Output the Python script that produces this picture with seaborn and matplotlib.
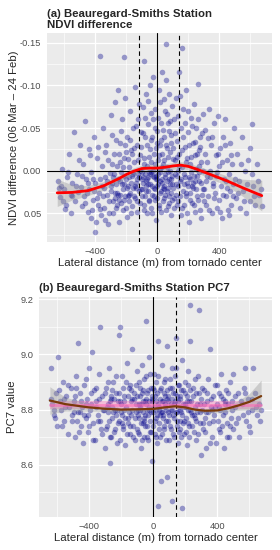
import matplotlib
matplotlib.use("Agg")
import numpy as np
import pandas as pd
import matplotlib.pyplot as plt
import seaborn as sns

# ---- panel (a): NDVI difference points ----
a_x = [-640, -628, -615, -600, -590, -582, -570, -560, -548, -540, -530, -520, -512, -505, -596, -560, -620,
       -495, -488, -480, -472, -465, -458, -450, -444, -438, -430, -425, -418, -410, -404, -400, -395, -390, -384,
       -378, -370, -365, -360, -356, -350, -345, -340, -335, -330, -325, -320, -316, -310, -305, -302, -452, -415,
       -372, -342,
       -296, -292, -288, -284, -280, -276, -272, -268, -264, -260, -256, -252, -248, -244, -240, -236, -232, -228,
       -224, -220, -216, -213, -210, -206, -202, -198, -194, -190, -186, -182, -178, -174, -170, -166, -162, -158,
       -154, -150, -146, -142, -138, -134, -130, -126, -122, -118, -114, -110, -106, -102, -290, -262, -238, -212,
       -188, -160, -136, -112, -250, -200,
       -98, -95, -92, -89, -86, -83, -80, -77, -74, -71, -68, -65, -62, -59, -56, -53, -50, -47, -44, -41, -38, -35,
       -32, -29, -26, -23, -20, -17, -14, -11, -8, -5, -2, 2, 5, 8, 11, 14, 17, 20, 23, 26, 29, 32, 35, 38, 41, 44,
       47, 50, 54, 57, 60, 63, 66, 69, 72, 75, 78, 81, 84, 87, 90, 93, 96, 99, -60, -30, 0, 30, 60, -75, 15, 45,
       -45, 75,
       102, 106, 110, 114, 118, 122, 126, 130, 134, 138, 142, 146, 150, 154, 157, 160, 164, 168, 172, 176, 180, 184,
       188, 192, 196, 200, 204, 208, 212, 216, 220, 224, 228, 232, 236, 240, 244, 248, 252, 256, 260, 264, 268, 272,
       276, 280, 284, 288, 292, 296, 120, 170, 210, 250, 135, 190, 230, 270,
       304, 310, 316, 322, 328, 334, 340, 346, 352, 358, 364, 370, 376, 382, 388, 394, 400, 406, 412, 418, 424, 430,
       436, 442, 448, 454, 460, 466, 472, 478, 484, 490, 496, 320, 360, 400, 440,
       505, 515, 525, 535, 545, 555, 565, 575, 585, 595, 608, 620, 632, 645, 658, 674, 612,
       -633, -606, -577, -553, -527, -498, -484, -468, -447, -433, -421, -407, -392, -381, -367, -352, -338, -327,
       -314, -300, -294, -286, -279, -270, -266, -258, -254, -246, -242, -234, -230, -222, -218, -214, -208, -204,
       -196, -192, -184, -180, -176, -172, -168, -164, -156, -152, -148, -144, -140, -132, -128, -124, -120, -116,
       -108, -104, -100, -96, -93, -90, -87, -84, -81, -78, -72, -69, -66, -63, -57, -54, -51, -48, -42, -39, -36,
       -33, -27, -24, -21, -18, -15, -12, -9, -6, -3, 1, 4, 7, 10, 13, 16, 19, 22, 25, 28, 31, 34, 37, 40, 43, 46,
       49, 52, 55, 58, 61, 64, 67, 70, 73, 76, 79, 82, 85, 88, 91, 94, 97, 104, 108, 112, 116, 124, 128, 132, 136,
       140, 144, 148, 152, 156, 162, 166, 174, 178, 182, 186, 194, 198, 202, 206, 214, 218, 222, 226, 234, 238, 242,
       246, 254, 258, 262, 266, 274, 278, 282, 286, 294, 298, 307, 313, 325, 331, 343, 355, 367, 379, 391, 403, 415,
       427, 439, 451, 463, 475, 487, 499, 520, 540, 560, 580, 600, 625, 650, 668]
a_y = [0.012, 0.031, -0.002, 0.022, 0.040, 0.008, -0.020, 0.028, 0.015, -0.045, 0.036, 0.004, 0.025, -0.012,
       0.045, 0.050, 0.018,
       0.019, 0.041, -0.008, 0.030, -0.058, 0.010, 0.048, -0.025, 0.022, 0.055, 0.002, 0.034, -0.040, 0.072, 0.014,
       0.060, -0.015, 0.040, 0.026, -0.135, 0.052, -0.005, 0.018, -0.050, 0.044, 0.008, 0.058, -0.030, 0.028, 0.063,
       -0.012, 0.036, 0.003, -0.065, 0.026, 0.010, 0.045, 0.020,
       0.024, -0.042, 0.050, 0.008, -0.020, 0.032, -0.080, 0.016, 0.044, -0.006, 0.028, -0.095, 0.060, 0.012,
       -0.032, 0.038, 0.002, -0.060, 0.022, 0.046, -0.015, -0.133, 0.030, -0.085, 0.010, 0.054, -0.040, 0.018,
       -0.004, 0.035, -0.070, 0.026, -0.024, 0.006, 0.042, -0.050, 0.020, -0.010, 0.032, -0.098, 0.014, 0.048,
       -0.030, 0.004, -0.060, 0.024, -0.018, 0.038, -0.045, 0.010, 0.014, 0.026, -0.010, 0.016, 0.030, 0.002,
       0.020, 0.000, 0.034, -0.022,
       0.022, -0.075, 0.008, 0.040, -0.128, -0.015, 0.030, -0.040, 0.012, -0.090, 0.050, -0.005, 0.024, -0.055,
       0.036, 0.002, -0.025, 0.016, -0.068, 0.044, -0.010, 0.028, -0.040, 0.006, -0.110, 0.020, -0.020, 0.034,
       -0.050, 0.010, 0.058, -0.032, 0.018, -0.062, 0.004, 0.040, -0.018, 0.026, -0.080, 0.012, -0.036, 0.048,
       -0.004, -0.116, 0.020, -0.048, 0.032, -0.012, 0.008, -0.070, -0.106, -0.148, 0.024, -0.026, 0.042, -0.056,
       0.002, 0.030, -0.090, 0.016, -0.022, 0.052, -0.042, 0.006, 0.034, -0.014, 0.008, 0.000, 0.010, 0.014,
       -0.004, 0.018, -0.002, 0.022, 0.004, 0.010,
       0.020, -0.060, 0.044, -0.012, 0.028, -0.085, 0.006, -0.035, 0.036, -0.020, -0.116, 0.012, -0.050, 0.052,
       -0.144, -0.004, 0.024, -0.072, 0.040, -0.028, 0.008, -0.095, 0.030, -0.015, 0.018, -0.045, 0.060, -0.008,
       0.026, -0.062, 0.002, 0.038, -0.032, 0.014, -0.078, 0.048, -0.018, 0.022, -0.050, 0.006, -0.102, 0.034,
       -0.024, 0.012, -0.040, 0.056, -0.010, 0.028, -0.066, 0.000, 0.016, 0.004, 0.010, -0.002, 0.000, 0.015,
       0.020, -0.006,
       0.022, -0.048, 0.040, -0.010, 0.030, -0.072, 0.008, -0.030, 0.050, 0.014, -0.056, 0.026, -0.018, 0.044,
       0.002, -0.064, 0.034, -0.026, 0.018, 0.055, -0.040, 0.010, -0.060, 0.030, -0.012, 0.046, 0.004, -0.032,
       0.024, 0.040, -0.008, 0.016, -0.050, 0.006, 0.018, -0.006, 0.012,
       0.032, -0.020, 0.012, 0.044, -0.040, 0.024, 0.000, 0.050, -0.012, 0.036, -0.055, 0.018, 0.040, -0.008,
       0.028, 0.042, 0.004,
       0.020, 0.035, 0.002, 0.030, 0.018, -0.030, 0.006, 0.038, 0.014, -0.018, 0.046, 0.024, 0.032, -0.028, 0.010,
       0.030, -0.022, 0.012, 0.050, 0.018, -0.008, 0.036, 0.004, 0.026, -0.036, 0.040, 0.010, -0.020, 0.028,
       -0.046, 0.016, -0.004, 0.034, 0.006, -0.030, 0.044, 0.020, -0.014, 0.008, 0.028, -0.036, 0.014, 0.050,
       -0.020, 0.004, 0.030, -0.026, 0.018, -0.052, 0.010, 0.036, -0.012, 0.008, -0.078, 0.022, -0.028, 0.002,
       0.030, -0.044, 0.014, -0.008, 0.046, -0.062, 0.004, 0.024, -0.030, 0.010, -0.082, 0.016, -0.016, 0.034,
       -0.100, 0.002, -0.036, 0.018, 0.050, -0.060, 0.008, 0.030, -0.008, -0.072, 0.022, -0.026, 0.006, -0.046,
       0.032, -0.012, 0.016, -0.094, 0.044, -0.030, 0.002, 0.024, -0.056, 0.010, -0.020, 0.036, -0.008, -0.084,
       0.018, -0.040, 0.028, 0.004, -0.030, 0.046, -0.066, 0.012, -0.016, 0.020, -0.046, 0.038, 0.000, -0.058,
       0.026, -0.032, 0.010, -0.076, 0.016, -0.026, 0.032, -0.044, 0.004, -0.016, 0.040, -0.064, 0.018, -0.006,
       0.030, -0.088, 0.010, -0.024, 0.044, -0.040, 0.016, -0.056, 0.026, -0.010, 0.050, -0.070, 0.008, -0.030,
       0.034, -0.016, 0.018, -0.052, 0.006, 0.040, -0.034, 0.012, -0.020, 0.030, -0.060, 0.002, 0.046, -0.028,
       0.014, -0.044, 0.022, 0.036, -0.020, 0.012, -0.038, 0.046, 0.000, -0.040, 0.032, 0.006, -0.020, 0.048,
       -0.010, 0.028, -0.030, 0.020, 0.052, -0.018, 0.030, 0.010, 0.026, -0.008, 0.036, 0.016, -0.026, 0.030,
       0.012, 0.022]

# loess fit (a)
a_fit_x = [-646, -550, -450, -350, -250, -200, -150, -100, -50, 0, 50, 100, 150, 200, 250, 350, 450, 550, 674]
a_fit_y = [0.026, 0.0255, 0.0235, 0.018, 0.0095, 0.0045, 0.0005, -0.0025, -0.003, -0.003, -0.004, -0.0055,
           -0.0065, -0.005, -0.002, 0.005, 0.012, 0.020, 0.0293]
a_fit_se = [0.016, 0.009, 0.006, 0.005, 0.004, 0.004, 0.004, 0.004, 0.004, 0.004, 0.004, 0.004, 0.004, 0.004,
            0.004, 0.005, 0.006, 0.010, 0.018]
a_vlines = [-116, 142]

# ---- panel (b): PC7 points ----
b_x = [-641, -632, -620, -610, -600, -594, -585, -575, -566, -555, -545, -535, -525, -515, -505, -560, -620,
       -495, -488, -480, -472, -469, -460, -452, -445, -438, -430, -422, -415, -408, -400, -394, -385, -378, -370,
       -362, -355, -348, -341, -333, -326, -318, -310, -304, -490, -455, -420, -390, -360, -330, -475, -405,
       -296, -290, -284, -278, -272, -270, -264, -258, -252, -246, -240, -234, -228, -222, -216, -213, -208, -202,
       -196, -190, -184, -178, -172, -166, -160, -154, -148, -142, -136, -130, -124, -118, -112, -106, -102, -280,
       -255, -230, -205, -180, -155, -130, -110, -265, -195, -145,
       -98, -94, -90, -86, -82, -78, -74, -70, -66, -62, -58, -54, -50, -48, -44, -40, -36, -32, -28, -24, -20, -16,
       -12, -8, -6, -2, 4, 8, 12, 16, 20, 24, 28, 31, 31, 36, 40, 44, 48, 52, 56, 60, 64, 68, 72, 76, 80, 84, 88, 88,
       92, 96, -85, -65, -45, -25, -5, 15, 35, 55, 75, 95, -55, 0, 45,
       102, 106, 110, 115, 118, 122, 126, 130, 134, 138, 142, 146, 150, 154, 158, 162, 166, 170, 174, 177, 180, 184,
       188, 192, 196, 200, 204, 208, 212, 216, 220, 224, 229, 229, 234, 240, 246, 252, 258, 264, 270, 276, 282, 285,
       290, 296, 120, 150, 190, 230, 260, 290, 170, 210, 300,
       304, 310, 316, 322, 328, 334, 340, 346, 354, 360, 366, 372, 378, 384, 390, 396, 402, 408, 414, 420, 426, 432,
       438, 444, 450, 456, 462, 468, 474, 480, 486, 492, 498, 500, 330, 370, 410, 450,
       508, 518, 528, 538, 548, 558, 568, 573, 580, 592, 604, 616, 626, 636, 648, 660, 674, 590,
       -638, -612, -588, -570, -550, -530, -510, -498, -484, -466, -449, -434, -418, -402, -388, -374, -358, -344,
       -336, -322, -314, -300, -294, -288, -282, -276, -268, -262, -256, -250, -244, -238, -232, -226, -220, -214,
       -210, -204, -198, -192, -186, -182, -176, -170, -164, -158, -152, -146, -140, -134, -128, -122, -116, -108,
       -104, -100, -96, -92, -88, -84, -80, -76, -72, -68, -64, -60, -56, -52, -46, -42, -38, -34, -30, -26, -22,
       -18, -14, -10, -4, 2, 6, 10, 14, 18, 22, 26, 30, 34, 38, 42, 46, 50, 54, 58, 62, 66, 70, 74, 78, 82, 86, 90,
       94, 98, 104, 108, 112, 116, 120, 124, 128, 132, 136, 140, 144, 148, 152, 156, 160, 164, 168, 172, 176, 182,
       186, 194, 198, 202, 206, 214, 218, 222, 226, 232, 238, 244, 250, 256, 262, 268, 274, 280, 288, 294, 302, 308,
       318, 326, 336, 344, 352, 362, 374, 386, 398, 410, 422, 434, 446, 458, 470, 482, 494, 512, 532, 552, 576, 598,
       620, 642, 664]
b_y = [8.95, 8.82, 8.78, 8.86, 8.74, 8.99, 8.83, 8.80, 8.90, 8.76, 8.85, 8.71, 8.81, 8.88, 8.78, 8.84, 8.80,
       8.83, 8.70, 8.92, 8.79, 9.04, 8.86, 8.74, 8.81, 8.68, 8.89, 8.77, 8.84, 8.72, 8.95, 8.80, 9.01, 8.75, 8.87,
       8.69, 8.83, 8.78, 8.93, 9.10, 8.73, 8.85, 8.80, 8.66, 8.85, 8.79, 8.82, 8.86, 8.81, 8.76, 8.76, 8.78,
       8.88, 8.74, 8.82, 8.95, 8.70, 8.605, 8.84, 8.77, 8.90, 8.72, 8.80, 8.86, 8.68, 8.83, 8.76, 9.07, 9.10, 8.79,
       8.92, 8.73, 8.85, 8.67, 8.81, 8.97, 8.75, 8.88, 8.71, 8.83, 8.78, 9.02, 8.74, 8.86, 8.69, 8.82, 8.94, 8.79,
       8.81, 8.78, 8.83, 8.80, 8.77, 8.84, 8.79, 8.85, 8.75, 8.89,
       8.80, 8.72, 8.90, 8.77, 8.85, 8.66, 8.82, 8.96, 8.75, 8.87, 8.70, 8.83, 8.78, 9.12, 8.92, 8.74, 8.86, 8.69,
       8.81, 8.99, 8.76, 8.88, 8.72, 8.84, 8.615, 8.79, 8.93, 8.71, 8.85, 8.77, 8.90, 8.68, 8.82, 9.05, 8.45, 8.75,
       8.87, 8.70, 8.54, 8.83, 8.96, 8.78, 8.86, 8.73, 8.81, 8.91, 8.76, 8.84, 8.556, 9.03, 8.79, 8.69, 8.81, 8.79,
       8.82, 8.80, 8.83, 8.80, 8.81, 8.79, 8.82, 8.85, 8.76, 8.88, 8.78,
       8.88, 8.74, 8.82, 8.47, 8.95, 8.78, 8.86, 8.70, 8.83, 8.92, 9.06, 8.76, 8.85, 8.68, 8.81, 8.89, 8.73, 8.84,
       8.79, 8.445, 8.98, 8.75, 8.87, 8.71, 8.82, 8.90, 8.77, 8.85, 8.67, 8.80, 8.94, 8.74, 9.18, 9.05, 8.83, 8.78,
       8.88, 8.72, 8.81, 8.86, 8.69, 8.79, 8.92, 9.16, 8.75, 8.84, 8.80, 8.79, 8.81, 8.80, 8.77, 8.82, 8.76, 8.83,
       8.635,
       8.80, 8.73, 8.87, 8.77, 8.66, 8.83, 8.91, 8.75, 9.02, 8.81, 8.70, 8.85, 8.78, 8.89, 8.68, 8.82, 8.76, 8.86,
       8.72, 8.80, 8.93, 8.74, 8.84, 8.66, 8.79, 8.87, 8.75, 8.82, 8.70, 8.90, 8.77, 8.83, 8.73, 8.93, 8.79, 8.80,
       8.81, 8.83,
       8.81, 8.75, 8.86, 8.70, 8.83, 8.78, 8.88, 8.95, 8.76, 8.84, 8.72, 8.80, 8.95, 8.86, 8.78, 8.82, 8.80, 8.79,
       8.84, 8.77, 8.87, 8.74, 8.81, 8.89, 8.76, 8.79, 8.88, 8.72, 8.83, 8.78, 8.91, 8.74, 8.82, 8.69, 8.88, 8.76,
       8.84, 8.71, 8.80, 8.86, 8.73, 8.81, 8.90, 8.76, 8.83, 8.70, 8.87, 8.79, 8.84, 8.73, 8.92, 8.80, 8.75, 8.86,
       8.69, 8.82, 8.78, 8.88, 8.74, 8.83, 8.77, 8.90, 8.71, 8.85, 8.79, 8.74, 8.87, 8.80, 8.70, 8.84, 8.77, 8.89,
       8.73, 8.85, 8.78, 8.82, 8.71, 8.88, 8.80, 8.75, 8.86, 8.69, 8.83, 8.77, 8.91, 8.74, 8.84, 8.80, 8.70, 8.87,
       8.78, 8.83, 8.72, 8.93, 8.79, 8.85, 8.74, 8.81, 8.87, 8.76, 8.83, 8.70, 8.86, 8.78, 8.92, 8.80, 8.73, 8.84,
       8.79, 8.88, 8.71, 8.83, 8.77, 8.90, 8.74, 8.85, 8.80, 8.69, 8.87, 8.76, 8.83, 8.78, 8.91, 8.80, 8.73, 8.84,
       8.88, 8.71, 8.82, 8.77, 8.86, 8.79, 8.95, 8.74, 8.83, 8.89, 8.72, 8.80, 8.85, 8.70, 8.87, 8.78, 8.82, 8.76,
       8.86, 8.72, 8.81, 8.89, 8.75, 8.83, 8.70, 8.87, 8.79, 8.74, 8.85, 8.78, 8.91, 8.76, 8.82, 8.71, 8.86, 8.79,
       8.88, 8.75, 8.82, 8.72, 8.86, 8.79, 8.68, 8.84, 8.76, 8.81, 8.89, 8.73, 8.85, 8.78, 8.82, 8.70, 8.86, 8.74,
       8.80, 8.85, 8.77, 8.82, 8.86, 8.74, 8.84, 8.81, 8.76]

# loess fit (b, brown) and linear fit (pink)
b_fit_x = [-646, -550, -408, -300, -200, -100, 0, 70, 136, 200, 260, 323, 400, 470, 532, 600, 674]
b_fit_y = [8.833, 8.820, 8.8085, 8.803, 8.800, 8.801, 8.8026, 8.808, 8.812, 8.808, 8.800, 8.796, 8.797, 8.805,
           8.815, 8.828, 8.849]
b_fit_se = [0.050, 0.025, 0.014, 0.009, 0.008, 0.007, 0.007, 0.007, 0.007, 0.007, 0.007, 0.008, 0.009, 0.011,
            0.018, 0.030, 0.058]
b_lin_x = [-646, 674]
b_lin_y = [8.818, 8.818]
b_lin_se = [0.014, 0.014]
b_vlines = [143]

xtick_vals = [-400, 0, 400]
xtick_labels = ["\u2212400", "0", "400"]

sns.set_theme(style="darkgrid")
plt.rcParams['font.family'] = ['Liberation Sans', 'DejaVu Sans']

fig = plt.figure(figsize=(2.8, 5.5), dpi=100)
ax_a = fig.add_axes([47 / 280, 1 - 241.7 / 550, 225 / 280, 208.7 / 550])
ax_b = fig.add_axes([39.3 / 280, 1 - 516.7 / 550, 232.4 / 280, 219.7 / 550])


def gg_style(ax, xminor, yminor):
    ax.set_facecolor('#EBEBEB')
    for s in ax.spines.values():
        s.set_visible(False)
    ax.set_axisbelow(True)
    ax.set_xticks(xminor, minor=True)
    ax.set_yticks(yminor, minor=True)
    ax.grid(True, which='major', color='white', lw=0.9)
    ax.grid(True, which='minor', color='white', lw=0.45)
    ax.tick_params(which='major', length=2.5, width=0.6, color='#333333',
                   labelsize=6.7, labelcolor='#4D4D4D', pad=1.5)
    ax.tick_params(which='minor', length=0)


# panel a
df_a = pd.DataFrame({'x': a_x, 'y': a_y})
sns.scatterplot(data=df_a, x='x', y='y', ax=ax_a, color='#00008B', alpha=0.37, s=16, linewidth=0)
ax_a.axhline(0, color='black', lw=0.8)
ax_a.axvline(0, color='black', lw=0.8)
for v in a_vlines:
    ax_a.axvline(v, color='black', lw=0.8, ls=(0, (4, 3)))
lo = np.array(a_fit_y) - np.array(a_fit_se)
hi = np.array(a_fit_y) + np.array(a_fit_se)
ax_a.fill_between(a_fit_x, lo, hi, color='#999999', alpha=0.4, lw=0)
sns.lineplot(x=a_fit_x, y=a_fit_y, ax=ax_a, color='red', lw=2.0, sort=False, estimator=None)

ax_a.set_xlim(-712, 740)
ax_a.set_ylim(0.0833, -0.1614)
ax_a.set_xticks(xtick_vals, xtick_labels)
ax_a.set_yticks([-0.15, -0.10, -0.05, 0.00, 0.05], ['-0.15', '-0.10', '-0.05', '0.00', '0.05'])
gg_style(ax_a, [-600, -200, 200, 600], [-0.125, -0.075, -0.025, 0.025, 0.075])
ax_a.set_xlabel('Lateral distance (m) from tornado center', fontsize=8.2, labelpad=1.5)
ax_a.set_ylabel('NDVI difference (06 Mar \u2013 24 Feb)', fontsize=8.2, labelpad=1.0)
ax_a.set_title('(a) Beauregard-Smiths Station\nNDVI difference', loc='left', fontsize=8.2,
               fontweight='bold', pad=3.5, linespacing=1.1)

# panel b
df_b = pd.DataFrame({'x': b_x, 'y': b_y})
sns.scatterplot(data=df_b, x='x', y='y', ax=ax_b, color='#00008B', alpha=0.37, s=16, linewidth=0)
ax_b.axvline(0, color='black', lw=0.8)
for v in b_vlines:
    ax_b.axvline(v, color='black', lw=0.8, ls=(0, (4, 3)))
lo = np.array(b_lin_y) - np.array(b_lin_se)
hi = np.array(b_lin_y) + np.array(b_lin_se)
ax_b.fill_between(b_lin_x, lo, hi, color='#FF69B4', alpha=0.35, lw=0)
sns.lineplot(x=b_lin_x, y=b_lin_y, ax=ax_b, color='#FF69B4', lw=2.0, alpha=0.6, sort=False, estimator=None)
lo = np.array(b_fit_y) - np.array(b_fit_se)
hi = np.array(b_fit_y) + np.array(b_fit_se)
ax_b.fill_between(b_fit_x, lo, hi, color='#999999', alpha=0.4, lw=0)
sns.lineplot(x=b_fit_x, y=b_fit_y, ax=ax_b, color='#7A3B0C', lw=1.6, sort=False, estimator=None)

ax_b.set_xlim(-712, 740)
ax_b.set_ylim(8.412, 9.208)
ax_b.set_xticks(xtick_vals, xtick_labels)
ax_b.set_yticks([8.6, 8.8, 9.0, 9.2], ['8.6', '8.8', '9.0', '9.2'])
gg_style(ax_b, [-600, -200, 200, 600], [8.5, 8.7, 8.9, 9.1])
ax_b.set_xlabel('Lateral distance (m) from tornado center', fontsize=8.2, labelpad=1.5)
ax_b.set_ylabel('PC7 value', fontsize=8.2, labelpad=2.5)
ax_b.set_title('(b) Beauregard-Smiths Station PC7', loc='left', fontsize=8.2, fontweight='bold', pad=4.5)

fig.savefig('out.png', dpi=100)
